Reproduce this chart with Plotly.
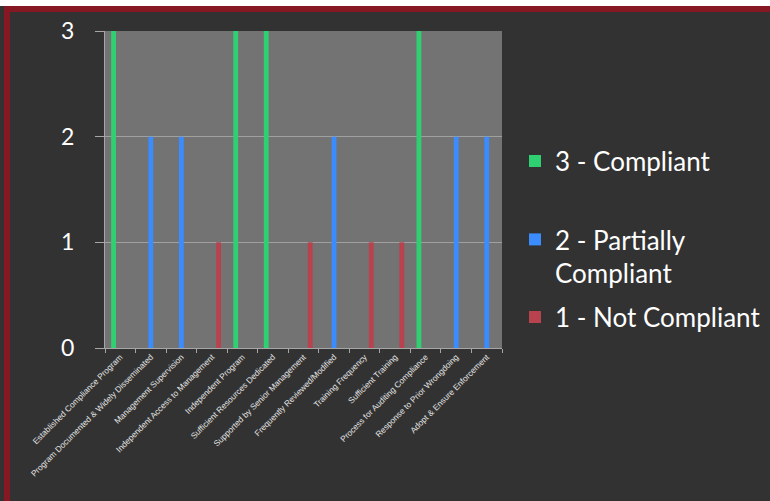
import plotly.graph_objects as go

categories = [
    "Established Compliance Program",
    "Program Documented & Widely Disseminated",
    "Management Supervision",
    "Independent Access to Management",
    "Independent Program",
    "Sufficient Resources Dedicated",
    "Supported by Senior Management",
    "Frequently Reviewed/Modified",
    "Training Frequency",
    "Sufficient Training",
    "Process for Auditing Compliance",
    "Response to Prior Wrongdoing",
    "Adopt & Ensure Enforcement",
]
scores = [3, 2, 2, 1, 3, 3, 1, 2, 1, 1, 3, 2, 2]

series_levels = [3, 2, 1]
series_names = ["3 - Compliant", "2 - Partially<br>Compliant", "1 - Not Compliant"]
series_colors = ["#2fd072", "#3a8cff", "#b9424f"]
y_ticks = [0, 1, 2, 3]

W, H = 770, 501
ML, MR, MT, MB = 105, 268, 31, 153
PW, PH = W - ML - MR, H - MT - MB


def px_x(p):
    return (p - ML) / PW


def px_y(p):
    return (H - MB - p) / PH


fig = go.Figure()
legend_ids = ["legend", "legend2", "legend3"]
for lvl, name, col, lid in zip(series_levels, series_names, series_colors, legend_ids):
    vals = [s if s == lvl else None for s in scores]
    fig.add_trace(go.Bar(
        x=categories, y=vals, name=name, marker_color=col,
        marker_line_width=0, legend=lid,
    ))

legend_font = dict(family="Lato", size=26, color="white")
legend_common = dict(font=legend_font, bgcolor="rgba(0,0,0,0)", xanchor="left",
                     yanchor="middle", valign="top", itemclick=False)
leg_x = px_x(515)

fig.update_layout(
    width=W, height=H,
    margin=dict(l=ML, r=MR, t=MT, b=MB, pad=0, autoexpand=False),
    paper_bgcolor="#323232",
    plot_bgcolor="#737373",
    barmode="group",
    bargap=0.34,
    bargroupgap=0.28,
    showlegend=True,
    legend=dict(x=leg_x, y=px_y(161), **legend_common),
    legend2=dict(x=leg_x, y=px_y(256.5), **legend_common),
    legend3=dict(x=leg_x, y=px_y(317), **legend_common),
    xaxis=dict(
        type="category",
        tickangle=-45,
        tickfont=dict(family="Liberation Sans", size=8.3, color="#e4e4e4"),
        showline=True, linecolor="#a6a6a6", linewidth=1,
        ticks="outside", ticklen=4, tickcolor="#a6a6a6",
        tickson="boundaries",
        showgrid=False,
    ),
    yaxis=dict(
        range=[0, 3],
        tickvals=y_ticks,
        tickfont=dict(family="Lato", size=23, color="white"),
        showline=True, linecolor="#a6a6a6", linewidth=1,
        ticks="outside", ticklen=9, tickcolor="#a6a6a6",
        ticklabelstandoff=16,
        showgrid=True, gridcolor="#a0a0a0", gridwidth=1,
        zeroline=False,
    ),
    shapes=[
        dict(type="rect", xref="paper", yref="paper", layer="below",
             x0=px_x(0), x1=px_x(W), y0=px_y(0), y1=px_y(6),
             fillcolor="white", line_width=0),
        dict(type="rect", xref="paper", yref="paper", layer="below",
             x0=px_x(4), x1=px_x(W), y0=px_y(6), y1=px_y(12),
             fillcolor="#861824", line_width=0),
        dict(type="rect", xref="paper", yref="paper", layer="below",
             x0=px_x(4), x1=px_x(10), y0=px_y(6), y1=px_y(H),
             fillcolor="#861824", line_width=0),
    ],
)

fig.write_html(
    "out.html",
    config={"displayModeBar": False},
    post_script="document.body.style.margin='0';document.body.style.overflow='hidden';",
)
